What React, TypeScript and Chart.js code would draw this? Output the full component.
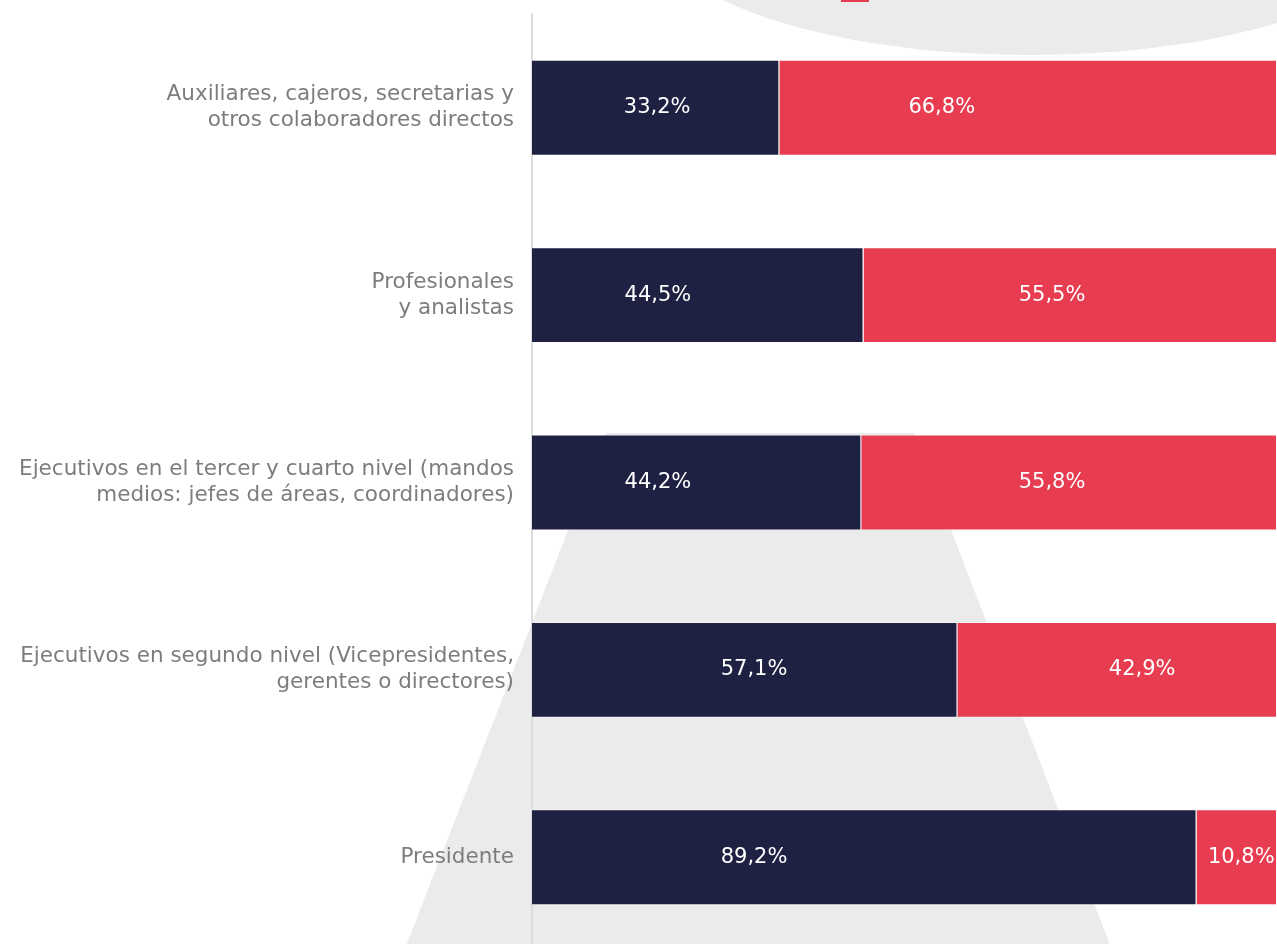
import React, { useEffect, useRef } from 'react';
import { Chart, registerables } from 'chart.js';

Chart.register(...registerables);

const categories: (string | string[])[] = [
  ['Auxiliares, cajeros, secretarias y', 'otros colaboradores directos'],
  ['Profesionales', 'y analistas'],
  ['Ejecutivos en el tercer y cuarto nivel (mandos', 'medios: jefes de áreas, coordinadores)'],
  ['Ejecutivos en segundo nivel (Vicepresidentes,', 'gerentes o directores)'],
  'Presidente',
];
const seriesNames = ['Hombres', 'Mujeres'];
const hombres = [33.2, 44.5, 44.2, 57.1, 89.2];
const mujeres = [66.8, 55.5, 55.8, 42.9, 10.8];

const NAVY = '#1f2143';
const RED = '#e83c51';
const FONT = "'DejaVu Sans', sans-serif";

const fmt = (v: number) => v.toFixed(1).replace('.', ',') + '%';

const backdropPlugin = {
  id: 'backdrop',
  beforeDraw(chart: any) {
    const { ctx, chartArea } = chart;
    ctx.save();
    ctx.fillStyle = '#ebebeb';
    // large ellipse peeking in from the top
    ctx.beginPath();
    ctx.ellipse(chartArea.left + 498, -75, 376, 130, 0, 0, Math.PI * 2);
    ctx.fill();
    // pyramid shape behind the lower bars
    const topY = 433;
    const botY = chart.height;
    const slopeL = 0.39;
    const slopeR = 0.383;
    ctx.beginPath();
    ctx.moveTo(606, topY);
    ctx.lineTo(914, topY);
    ctx.lineTo(914 + slopeR * (botY - topY), botY);
    ctx.lineTo(606 - slopeL * (botY - topY), botY);
    ctx.closePath();
    ctx.fill();
    // cropped legend item at the very top
    const ds = chart.data.datasets[1];
    ctx.fillStyle = ds.backgroundColor;
    ctx.fillRect(841, -26, 28, 28);
    ctx.fillStyle = '#808080';
    ctx.font = `21px ${FONT}`;
    ctx.textBaseline = 'alphabetic';
    ctx.textAlign = 'left';
    ctx.fillText(ds.label, 884, -4);
    ctx.restore();
  },
};

const segmentLabelPlugin = {
  id: 'segmentLabels',
  afterDatasetsDraw(chart: any, _args: any, opts: any) {
    const { ctx } = chart;
    const xs = chart.scales.x;
    ctx.save();
    ctx.fillStyle = '#ffffff';
    ctx.font = `21px ${FONT}`;
    ctx.textAlign = 'center';
    ctx.textBaseline = 'middle';
    chart.data.datasets.forEach((ds: any, i: number) => {
      const meta = chart.getDatasetMeta(i);
      meta.data.forEach((bar: any, j: number) => {
        const anchor = opts.anchors[i][j];
        ctx.fillText(fmt(ds.data[j]), xs.getPixelForValue(anchor), bar.y);
      });
    });
    ctx.restore();
  },
};

export default function App() {
  const ref = useRef<HTMLCanvasElement | null>(null);

  useEffect(() => {
    if (!ref.current) return;
    const chart = new Chart(ref.current, {
      type: 'bar',
      data: {
        labels: categories,
        datasets: [
          {
            label: seriesNames[0],
            data: hombres,
            backgroundColor: NAVY,
            borderColor: 'rgba(255,255,255,0.35)',
            borderWidth: 1,
            barPercentage: 1,
            categoryPercentage: 0.512,
          },
          {
            label: seriesNames[1],
            data: mujeres,
            backgroundColor: RED,
            borderColor: 'rgba(255,255,255,0.35)',
            borderWidth: 1,
            barPercentage: 1,
            categoryPercentage: 0.512,
          },
        ],
      },
      options: {
        indexAxis: 'y',
        responsive: false,
        animation: false,
        layout: { padding: { top: 14, left: 0, right: 0, bottom: 0 } },
        plugins: {
          legend: { display: false },
          tooltip: { enabled: false },
          segmentLabels: {
            anchors: [
              [16.8, 16.9, 16.9, 29.8, 29.8],
              [55.0, 69.8, 69.8, 81.9, 95.2],
            ],
          },
        } as any,
        scales: {
          x: {
            stacked: true,
            min: 0,
            max: 100,
            display: false,
          },
          y: {
            stacked: true,
            grid: { display: false, drawTicks: false },
            border: { display: true, color: '#dcdcdc', width: 2 },
            ticks: {
              color: '#7d7d7d',
              padding: 18,
              font: { family: FONT, size: 21.5, lineHeight: 1.21 },
            },
            afterFit(scale: any) {
              scale.width = 532;
              scale.paddingTop = 0;
              scale.paddingBottom = 0;
            },
          },
        },
      },
      plugins: [backdropPlugin, segmentLabelPlugin],
    });
    return () => chart.destroy();
  }, []);

  return (
    <div
      style={{
        position: 'fixed',
        top: 0,
        left: 0,
        width: 1277,
        height: 944,
        overflow: 'hidden',
        background: '#ffffff',
      }}
    >
      <canvas ref={ref} width={1277} height={951} style={{ width: 1277, height: 951, display: 'block' }} />
    </div>
  );
}
